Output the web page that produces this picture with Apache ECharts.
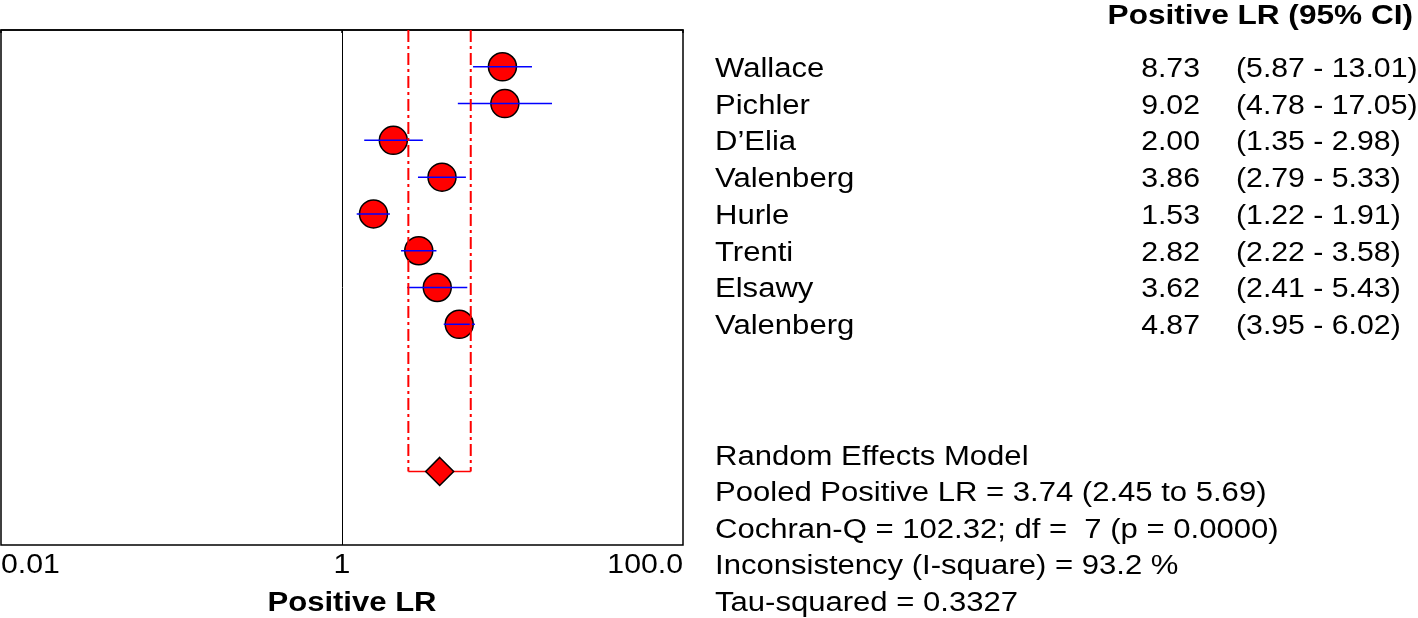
<!DOCTYPE html>
<html>
<head>
<meta charset="utf-8">
<script src="https://cdn.jsdelivr.net/npm/echarts@6/dist/echarts.min.js"></script>
<style>
  html, body { margin: 0; padding: 0; background: #fff; }
  #main { width: 1418px; height: 618px; }
</style>
</head>
<body>
<div id="main"></div>
<script>
// studies and their positive LR with 95% CI
var studies = ['Wallace', 'Pichler', 'D\u2019Elia', 'Valenberg', 'Hurle', 'Trenti', 'Elsawy', 'Valenberg']
var lr = [8.73, 9.02, 2.00, 3.86, 1.53, 2.82, 3.62, 4.87]
var lower = [5.87, 4.78, 1.35, 2.79, 1.22, 2.22, 2.41, 3.95]
var upper = [13.01, 17.05, 2.98, 5.33, 1.91, 3.58, 5.43, 6.02]

// pooled estimate (random effects): [estimate, low, high]
var pooled = [3.74, 2.45, 5.69]
var pooledRow = 12
var rowCount = 14

var xTicks = [0.01, 1, 100]
var xTickLabels = ['0.01', '1', '100.0']

var summaryLines = [
  'Random Effects Model',
  'Pooled Positive LR = 3.74 (2.45 to 5.69)',
  'Cochran-Q = 102.32; df =  7 (p = 0.0000)',
  'Inconsistency (I-square) = 93.2 %',
  'Tau-squared = 0.3327'
]

var FONT = '"Liberation Sans", Arial, sans-serif'
var gridTop = 30
var gridBottom = 73
var dy = 2.5 // glyphs sit a bit high with middle alignment

// the original text is a little stretched sideways
function txt (x, y, s, align, bold, sx) {
  return {
    type: 'text',
    x: x,
    y: y + dy,
    scaleX: sx || 1.15,
    silent: true,
    style: {
      text: s,
      fontSize: 27,
      fontFamily: FONT,
      fontWeight: bold ? 'bold' : 'normal',
      fill: '#000',
      align: align,
      verticalAlign: 'middle'
    }
  }
}

var pointData = lr.map(function (v, i) { return [v, i + 1] })
var ciData = lr.map(function (v, i) { return [lower[i], upper[i], i + 1] })

var chart = echarts.init(document.getElementById('main'))
chart.setOption({
  animation: false,
  backgroundColor: '#fff',
  grid: {
    left: 1,
    right: 735,
    top: gridTop,
    bottom: gridBottom,
    show: true,
    borderColor: '#000',
    borderWidth: 1.5
  },
  xAxis: {
    type: 'log',
    logBase: 10,
    min: 0.01,
    max: 100,
    axisLine: { show: true, lineStyle: { color: '#000', width: 1.5 } },
    axisTick: { show: true, length: 3, customValues: xTicks, lineStyle: { color: '#000', width: 1.5 } },
    minorTick: { show: false },
    splitLine: { show: false },
    axisLabel: { show: false }
  },
  yAxis: {
    type: 'value',
    min: 0,
    max: rowCount,
    inverse: true,
    show: false
  },
  series: [
    {
      type: 'scatter',
      data: pointData,
      symbol: 'circle',
      symbolSize: 28,
      z: 2,
      itemStyle: { color: '#ff0000', borderColor: '#000', borderWidth: 1.5, opacity: 1 },
      markLine: {
        silent: true,
        symbol: 'none',
        label: { show: false },
        lineStyle: { color: '#000', width: 1, type: 'solid' },
        data: [{ xAxis: 1 }]
      }
    },
    {
      type: 'custom',
      data: ciData,
      z: 3,
      renderItem: function (params, api) {
        var a = api.coord([api.value(0), api.value(2)])
        var b = api.coord([api.value(1), api.value(2)])
        return {
          type: 'line',
          shape: { x1: a[0], y1: a[1], x2: b[0], y2: b[1] },
          style: { stroke: '#0000ff', lineWidth: 1.5 }
        }
      }
    },
    {
      type: 'custom',
      data: [[pooled[1], pooled[2], pooledRow]],
      z: 4,
      renderItem: function (params, api) {
        var lt = api.coord([api.value(0), 0])
        var lb = api.coord([api.value(0), api.value(2)])
        var rt = api.coord([api.value(1), 0])
        var rb = api.coord([api.value(1), api.value(2)])
        var dash = { stroke: '#ff0000', lineWidth: 2, lineDash: [12, 4, 3, 4] }
        return {
          type: 'group',
          children: [
            { type: 'line', shape: { x1: lt[0], y1: lt[1], x2: lb[0], y2: lb[1] }, style: dash },
            { type: 'line', shape: { x1: rt[0], y1: rt[1], x2: rb[0], y2: rb[1] }, style: dash },
            { type: 'line', shape: { x1: lb[0], y1: lb[1], x2: rb[0], y2: rb[1] }, style: { stroke: '#ff0000', lineWidth: 1.5 } }
          ]
        }
      }
    },
    {
      type: 'scatter',
      data: [[pooled[0], pooledRow]],
      symbol: 'diamond',
      symbolSize: [28, 28],
      z: 5,
      itemStyle: { color: '#ff0000', borderColor: '#000', borderWidth: 1.5, opacity: 1 }
    }
  ]
})

// text table on the right, tick labels and axis title
var texts = [txt(1413, 14, 'Positive LR (95% CI)', 'right', true, 1.17)]
studies.forEach(function (name, i) {
  var y = chart.convertToPixel({ yAxisIndex: 0 }, i + 1)
  texts.push(txt(715, y, name, 'left'))
  texts.push(txt(1200, y, lr[i].toFixed(2), 'right', false, 1.12))
  texts.push(txt(1236, y, '(' + lower[i].toFixed(2) + ' - ' + upper[i].toFixed(2) + ')', 'left', false, 1.12))
})
summaryLines.forEach(function (s, k) {
  texts.push(txt(715, 455 + k * 36.5, s, 'left'))
})
xTicks.forEach(function (v, k) {
  var x = chart.convertToPixel({ xAxisIndex: 0 }, v)
  var align = k === 0 ? 'left' : (k === xTicks.length - 1 ? 'right' : 'center')
  texts.push(txt(x, 563, xTickLabels[k], align, false, 1.12))
})
texts.push(txt(352, 601, 'Positive LR', 'center', true))
chart.setOption({ graphic: texts })
</script>
</body>
</html>
